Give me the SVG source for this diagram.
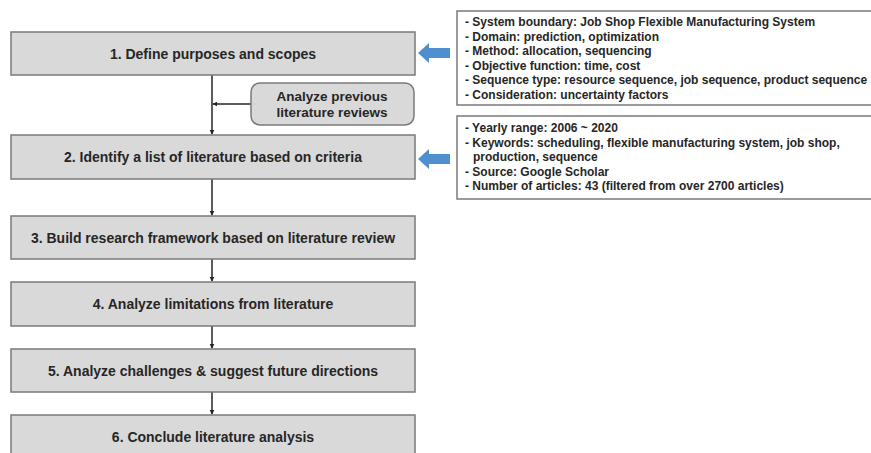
<svg xmlns="http://www.w3.org/2000/svg" width="871" height="453" viewBox="0 0 871 453">
<defs>
<style>
.step{fill:#d9d9d9;stroke:#7a7a7a;stroke-width:1.5}
.st{font-family:"Liberation Sans",Arial,sans-serif;font-weight:bold;font-size:14px;fill:#262626;text-anchor:middle}
.pt{font-family:"Liberation Sans",Arial,sans-serif;font-weight:bold;font-size:13.5px;fill:#262626;text-anchor:middle}
.info{fill:#ffffff;stroke:#7a7a7a;stroke-width:1.5}
.it{font-family:"Liberation Sans",Arial,sans-serif;font-weight:bold;font-size:12px;fill:#262626}
.con{stroke:#262626;stroke-width:1.5;fill:none;marker-end:url(#ah)}
.blue{fill:#4f8fd0}
</style>
<marker id="ah" viewBox="0 0 8 8" refX="7" refY="4" markerWidth="5" markerHeight="5" orient="auto" markerUnits="userSpaceOnUse">
<path d="M0,0 L8,4 L0,8 z" fill="#262626"/>
</marker>
</defs>
<rect width="871" height="453" fill="#ffffff"/>
<g id="connectors">
<line class="con" x1="212" y1="75" x2="212" y2="134"/>
<line class="con" x1="251" y1="104" x2="213" y2="104"/>
<line class="con" x1="212" y1="179" x2="212" y2="215"/>
<line class="con" x1="212" y1="259" x2="212" y2="281"/>
<line class="con" x1="212" y1="326" x2="212" y2="348"/>
<line class="con" x1="212" y1="392" x2="212" y2="414"/>
</g>
<g id="step1"><rect class="step" x="11" y="32" width="404" height="43"/><text class="st" x="213" y="58.5">1. Define purposes and scopes</text></g>
<g id="prev"><rect class="step" x="251" y="83" width="163" height="42" rx="9"/><text class="pt" x="332" y="101">Analyze previous</text><text class="pt" x="332" y="117">literature reviews</text></g>
<g id="step2"><rect class="step" x="11" y="135" width="404" height="44"/><text class="st" x="213" y="162">2. Identify a list of literature based on criteria</text></g>
<g id="step3"><rect class="step" x="11" y="216" width="404" height="43"/><text class="st" x="213" y="242.5">3. Build research framework based on literature review</text></g>
<g id="step4"><rect class="step" x="11" y="282" width="404" height="44"/><text class="st" x="213" y="309">4. Analyze limitations from literature</text></g>
<g id="step5"><rect class="step" x="11" y="349" width="404" height="43"/><text class="st" x="213" y="375.5">5. Analyze challenges &amp; suggest future directions</text></g>
<g id="step6"><rect class="step" x="11" y="415" width="404" height="44"/><text class="st" x="213" y="442">6. Conclude literature analysis</text></g>
<g id="arrow1"><path class="blue" d="M418,53 L429,43 L429,48 L450,48 L450,58 L429,58 L429,63 z"/></g>
<g id="arrow2"><path class="blue" d="M418,159 L429,149 L429,154 L450,154 L450,164 L429,164 L429,169 z"/></g>
<g id="info1"><rect class="info" x="457" y="11" width="420" height="94"/>
<text class="it" x="465" y="26">- System boundary: Job Shop Flexible Manufacturing System</text>
<text class="it" x="465" y="40.5">- Domain: prediction, optimization</text>
<text class="it" x="465" y="55">- Method: allocation, sequencing</text>
<text class="it" x="465" y="69.5">- Objective function: time, cost</text>
<text class="it" x="465" y="84">- Sequence type: resource sequence, job sequence, product sequence</text>
<text class="it" x="465" y="98.5">- Consideration: uncertainty factors</text>
</g>
<g id="info2"><rect class="info" x="457" y="116" width="420" height="83"/>
<text class="it" x="465" y="132">- Yearly range: 2006 ~ 2020</text>
<text class="it" x="465" y="146.5">- Keywords: scheduling, flexible manufacturing system, job shop,</text>
<text class="it" x="473" y="161">production, sequence</text>
<text class="it" x="465" y="175.5">- Source: Google Scholar</text>
<text class="it" x="465" y="190">- Number of articles: 43 (filtered from over 2700 articles)</text>
</g>
</svg>
